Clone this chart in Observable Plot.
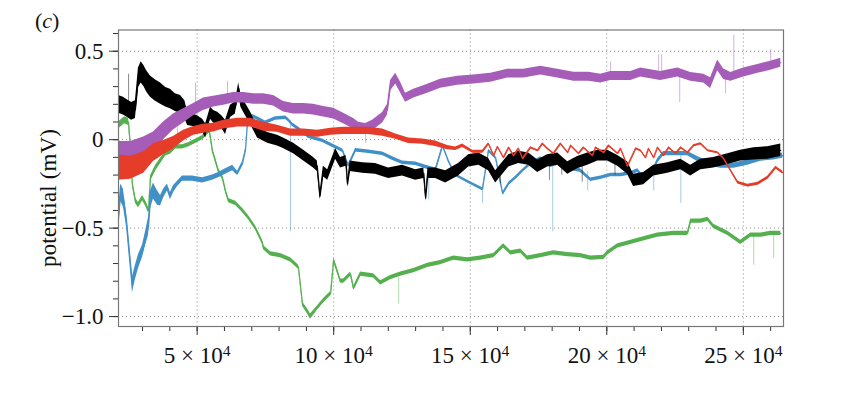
<!DOCTYPE html>
<html><head><meta charset="utf-8">
<script src="https://cdn.jsdelivr.net/npm/d3@7"></script>
<script src="https://cdn.jsdelivr.net/npm/@observablehq/plot@0.6"></script>
<style>
body{margin:0;background:#fff;}
#chart{position:relative;width:850px;height:394px;}
</style></head><body><div id="chart"></div>
<script>
// x in units of 10^4, y = potential (mV), w = half-width of the noise band (mV)
const black = [[2.12,0.20,.05],[2.30,0.19,.05],[2.45,0.175,.05],[2.60,0.16,.05],[2.74,0.17,.05],[2.85,0.35,.055],[2.95,0.38,.06],[3.05,0.36,.06],[3.15,0.33,.06],[3.29,0.30,.06],[3.45,0.28,.06],[3.66,0.26,.06],[3.85,0.24,.055],[4.02,0.23,.055],[4.20,0.21,.05],[4.39,0.20,.05],[4.55,0.17,.05],[4.65,0.12,.04],[4.85,0.11,.035],[5.01,0.10,.035],[5.20,0.08,.035],[5.31,0.05,.04],[5.40,0.10,.035],[5.49,0.15,.035],[5.60,0.13,.035],[5.75,0.12,.035],[5.90,0.10,.035],[6.04,0.07,.04],[6.22,0.16,.035],[6.40,0.18,.035],[6.52,0.29,.03],[6.60,0.22,.035],[6.70,0.19,.035],[6.96,0.12,.035],[7.21,0.04,.03],[7.58,0.01,.03],[7.94,-0.005,.03],[8.16,-0.02,.03],[8.53,-0.05,.03],[8.90,-0.09,.03],[9.26,-0.13,.03],[9.40,-0.15,.03],[9.50,-0.32,.02],[9.62,-0.18,.03],[9.78,-0.20,.03],[10.07,-0.08,.03],[10.25,-0.13,.03],[10.45,-0.12,.03],[10.51,-0.25,.02],[10.60,-0.15,.03],[11.06,-0.16,.03],[11.53,-0.165,.03],[12.01,-0.19,.03],[12.52,-0.175,.03],[13.00,-0.20,.03],[13.30,-0.19,.03],[13.37,-0.33,.02],[13.45,-0.19,.03],[13.73,-0.19,.03],[14.10,-0.21,.035],[14.57,-0.17,.035],[14.94,-0.12,.035],[15.31,-0.11,.035],[15.67,-0.14,.035],[15.93,-0.21,.035],[16.41,-0.12,.035],[16.77,-0.10,.035],[17.14,-0.11,.035],[17.47,-0.15,.035],[17.83,-0.12,.035],[18.20,-0.11,.035],[18.57,-0.16,.035],[18.93,-0.13,.035],[19.30,-0.11,.035],[19.67,-0.09,.03],[20.03,-0.09,.03],[20.40,-0.12,.03],[20.76,-0.16,.035],[20.98,-0.23,.035],[21.35,-0.22,.035],[21.72,-0.175,.03],[22.23,-0.16,.03],[22.71,-0.14,.03],[23.07,-0.175,.03],[23.44,-0.14,.03],[23.91,-0.13,.03],[24.43,-0.11,.03],[24.90,-0.09,.03],[25.38,-0.08,.035],[25.89,-0.075,.035],[26.37,-0.06,.035]];

const purple = [[2.12,-0.07,.07],[2.19,-0.08,.07],[2.56,-0.08,.07],[3.04,-0.05,.065],[3.40,-0.017,.06],[3.77,0.05,.05],[4.13,0.10,.045],[4.50,0.135,.04],[4.87,0.17,.035],[5.23,0.20,.035],[5.60,0.215,.03],[5.97,0.225,.03],[6.33,0.237,.03],[6.70,0.237,.03],[7.07,0.23,.03],[7.43,0.23,.03],[7.80,0.22,.03],[8.16,0.186,.03],[8.53,0.175,.03],[8.90,0.175,.03],[9.26,0.17,.03],[9.63,0.158,.03],[10.00,0.147,.03],[10.36,0.12,.03],[10.73,0.09,.03],[10.91,0.068,.03],[11.17,0.062,.03],[11.42,0.08,.03],[11.79,0.124,.03],[11.97,0.17,.03],[12.08,0.305,.03],[12.27,0.345,.03],[12.45,0.294,.03],[12.63,0.237,.025],[12.93,0.26,.025],[13.44,0.288,.025],[13.91,0.316,.025],[14.54,0.333,.025],[15.12,0.34,.025],[15.75,0.35,.025],[16.37,0.373,.025],[16.96,0.373,.025],[17.58,0.39,.025],[18.20,0.373,.025],[18.79,0.356,.025],[19.34,0.356,.025],[19.78,0.345,.025],[20.14,0.36,.025],[20.88,0.36,.025],[21.24,0.38,.025],[21.97,0.36,.025],[22.60,0.38,.025],[23.07,0.355,.025],[23.55,0.345,.025],[23.80,0.32,.03],[24.06,0.42,.03],[24.28,0.37,.03],[24.54,0.355,.025],[25.01,0.38,.025],[25.53,0.40,.025],[26.00,0.418,.025],[26.37,0.435,.025]];

const red = [[2.12,-0.16,.07],[2.19,-0.158,.07],[2.56,-0.158,.065],[3.04,-0.13,.06],[3.40,-0.073,.05],[3.77,-0.045,.04],[4.13,-0.017,.035],[4.50,0.023,.03],[4.87,0.05,.025],[5.23,0.062,.025],[5.60,0.068,.025],[5.97,0.085,.025],[6.48,0.096,.025],[6.96,0.096,.025],[7.43,0.073,.025],[7.94,0.062,.02],[8.42,0.04,.02],[8.90,0.04,.02],[9.41,0.034,.02],[9.89,0.045,.02],[10.36,0.05,.02],[10.87,0.05,.02],[11.28,0.05,.02],[11.79,0.04,.02],[12.27,0.017,.015],[12.74,-0.006,.015],[13.26,-0.011,.015],[13.73,-0.023,.015],[14.17,-0.045,.012],[14.46,-0.051,.01],[14.72,-0.034,.01],[15.09,-0.068,.008],[15.45,-0.068,.008],[15.67,-0.023,.006],[15.86,-0.09,.005],[16.00,-0.04,.005],[16.22,-0.102,.005],[16.41,-0.045,.005],[16.59,-0.09,.005],[16.77,-0.051,.005],[16.92,-0.107,.005],[17.21,-0.045,.005],[17.47,-0.062,.005],[17.65,-0.023,.005],[17.83,-0.051,.005],[18.05,-0.079,.005],[18.31,-0.023,.005],[18.57,-0.073,.005],[18.68,-0.034,.005],[18.97,-0.079,.005],[19.15,-0.045,.005],[19.48,-0.09,.005],[19.59,-0.045,.005],[19.89,-0.073,.005],[20.07,-0.034,.005],[20.40,-0.079,.005],[20.51,-0.051,.005],[20.76,-0.15,.005],[21.06,-0.051,.005],[21.24,-0.062,.005],[21.42,-0.102,.005],[21.53,-0.051,.005],[21.72,-0.102,.005],[21.86,-0.045,.005],[22.08,-0.09,.005],[22.27,-0.045,.005],[22.52,-0.079,.005],[22.71,-0.045,.005],[22.96,-0.073,.005],[23.18,-0.034,.005],[23.44,-0.023,.005],[23.70,-0.062,.005],[24.06,-0.073,.005],[24.28,-0.107,.005],[24.54,-0.175,.006],[24.80,-0.243,.008],[25.16,-0.26,.008],[25.53,-0.249,.008],[25.89,-0.215,.008],[26.19,-0.158,.008],[26.44,-0.186,.008]];

const blue = [[2.12,-0.45,.06],[2.20,-0.30,.05],[2.30,-0.33,.05],[2.41,-0.45,.04],[2.56,-0.70,.04],[2.63,-0.82,.045],[2.74,-0.75,.04],[2.85,-0.69,.04],[3.00,-0.63,.035],[3.11,-0.56,.04],[3.22,-0.49,.05],[3.29,-0.34,.05],[3.40,-0.29,.045],[3.55,-0.33,.04],[3.66,-0.345,.03],[3.77,-0.305,.025],[3.91,-0.27,.02],[4.02,-0.32,.02],[4.13,-0.28,.02],[4.28,-0.25,.015],[4.46,-0.22,.015],[4.83,-0.22,.015],[5.20,-0.23,.015],[5.56,-0.215,.015],[5.78,-0.20,.015],[6.04,-0.18,.015],[6.30,-0.16,.015],[6.48,-0.19,.012],[6.66,-0.136,.012],[6.77,-0.06,.01],[6.85,0.107,.01],[6.96,0.136,.01],[7.21,0.12,.01],[7.50,0.096,.01],[7.87,0.12,.01],[8.24,0.124,.01],[8.35,0.11,.01],[8.49,0.085,.01],[8.71,0.062,.01],[9.08,0.017,.01],[9.59,-0.006,.01],[9.96,-0.034,.01],[10.33,-0.062,.01],[10.54,-0.147,.01],[10.80,-0.06,.01],[11.28,-0.068,.01],[11.79,-0.08,.01],[12.16,-0.107,.01],[12.52,-0.13,.01],[13.00,-0.136,.01],[13.44,-0.158,.01],[13.73,-0.17,.01],[13.99,-0.034,.008],[14.20,-0.12,.008],[14.46,-0.20,.008],[14.94,-0.24,.008],[15.45,-0.28,.008],[15.67,-0.062,.008],[15.93,-0.102,.008],[16.19,-0.305,.008],[16.41,-0.249,.008],[16.66,-0.215,.008],[16.92,-0.175,.008],[17.21,-0.136,.01],[17.58,-0.107,.01],[17.94,-0.147,.01],[18.31,-0.13,.01],[18.68,-0.164,.01],[19.04,-0.175,.01],[19.41,-0.226,.01],[19.78,-0.215,.01],[20.14,-0.20,.01],[20.51,-0.20,.01],[20.88,-0.19,.01],[21.13,-0.175,.01],[21.35,-0.215,.01],[21.61,-0.203,.01],[21.86,-0.119,.012],[22.08,-0.079,.012],[22.45,-0.079,.012],[22.96,-0.079,.012],[23.44,-0.119,.015],[23.80,-0.136,.015],[24.17,-0.147,.015],[24.65,-0.147,.015],[25.16,-0.13,.015],[25.64,-0.107,.015],[26.11,-0.10,.015],[26.44,-0.09,.015]];

const green = [[2.12,0.08,.02],[2.34,0.11,.02],[2.49,0.10,.02],[2.56,-0.05,.015],[2.63,-0.25,.015],[2.74,-0.345,.015],[2.85,-0.37,.015],[3.00,-0.33,.015],[3.11,-0.36,.015],[3.22,-0.40,.015],[3.29,-0.22,.015],[3.48,-0.16,.015],[3.66,-0.12,.015],[3.84,-0.08,.012],[4.02,-0.07,.012],[4.21,-0.04,.012],[4.46,-0.04,.012],[4.68,-0.03,.012],[4.94,-0.01,.012],[5.20,0.011,.012],[5.31,0.03,.012],[5.45,0.05,.012],[5.56,-0.06,.012],[5.78,-0.175,.012],[5.93,-0.215,.012],[6.04,-0.29,.012],[6.15,-0.345,.012],[6.41,-0.36,.012],[6.66,-0.40,.012],[6.88,-0.44,.012],[7.14,-0.50,.012],[7.39,-0.58,.012],[7.43,-0.61,.012],[7.69,-0.645,.012],[8.05,-0.655,.012],[8.42,-0.68,.012],[8.71,-0.72,.012],[8.86,-0.93,.012],[9.04,-0.97,.015],[9.15,-1.0,.015],[9.41,-0.95,.012],[9.63,-0.91,.012],[9.89,-0.87,.012],[10.00,-0.68,.012],[10.25,-0.80,.012],[10.36,-0.80,.012],[10.62,-0.76,.012],[10.73,-0.84,.012],[10.98,-0.76,.012],[11.46,-0.77,.012],[11.72,-0.81,.012],[12.08,-0.78,.012],[12.45,-0.76,.012],[12.93,-0.74,.012],[13.44,-0.71,.012],[13.91,-0.695,.012],[14.39,-0.67,.012],[14.90,-0.68,.012],[15.38,-0.67,.012],[15.86,-0.655,.012],[16.22,-0.60,.012],[16.48,-0.64,.012],[16.85,-0.63,.012],[17.10,-0.67,.012],[17.58,-0.655,.012],[18.05,-0.64,.012],[18.57,-0.65,.012],[19.04,-0.655,.012],[19.41,-0.67,.012],[19.89,-0.665,.012],[20.03,-0.64,.012],[20.40,-0.60,.012],[20.88,-0.58,.012],[21.35,-0.56,.012],[21.86,-0.54,.012],[22.45,-0.53,.012],[22.96,-0.53,.012],[23.07,-0.46,.012],[23.44,-0.46,.012],[23.70,-0.45,.012],[23.91,-0.49,.012],[24.43,-0.53,.012],[24.90,-0.58,.012],[25.27,-0.54,.012],[25.64,-0.54,.012],[26.00,-0.53,.012],[26.37,-0.53,.012]];

// isolated spikes: [x, base, tip]
const blackSpikes = [[2.49,0.18,0.37],[17.90,-0.12,-0.23],[18.35,-0.11,-0.20],[19.10,-0.12,-0.24],[20.30,-0.11,-0.20],[16.10,-0.15,-0.25]];
const purpleSpikes = [[4.94,0.17,0.32],[6.11,0.23,0.33],[11.17,0.06,-0.02],[20.14,0.35,0.44],[21.90,0.36,0.48],[22.01,0.36,0.48],[22.67,0.38,0.21],[24.35,0.37,0.26],[24.65,0.36,0.59],[26.00,0.42,0.51]];
const blueSpikes = [[8.42,0.11,-0.52],[13.48,-0.16,-0.34],[15.45,-0.26,-0.36],[18.02,-0.13,-0.52],[19.30,-0.18,-0.29],[21.72,-0.2,-0.29],[22.71,-0.08,-0.36]];
const greenSpikes = [[4.28,-0.04,0.07],[12.38,-0.78,-0.93],[25.38,-0.54,-0.71],[26.11,-0.53,-0.67]];

const xMajor = [5, 10, 15, 20, 25];
const xMinor = d3.range(3, 27, 1);
const yMajor = [-1.0, -0.5, 0, 0.5];
const yMinor = d3.range(-10, 7, 1).map(v => v / 10);
const xDomain = [2.12, 26.47];
const yDomain = [-1.056, 0.62];

const seriesList = [
  {data: green, spikes: greenSpikes, color: "#55b04f"},
  {data: blue, spikes: blueSpikes, color: "#4190c8"},
  {data: black, spikes: blackSpikes, color: "#000000"},
  {data: purple, spikes: purpleSpikes, color: "#a55db8"},
  {data: red, spikes: [], color: "#e63c2a"}
];

const font = '"Liberation Serif","Times New Roman",serif';
const grid = {stroke: "#8a8a8a", strokeOpacity: 1, strokeWidth: 1, strokeDasharray: "1,3"};
const marks = [
  Plot.gridX(xMajor, grid),
  Plot.gridY(yMajor, grid)
];
for (const s of seriesList) {
  const rows = s.data.map(([x, y, w]) => ({x, y, w}));
  marks.push(Plot.areaY(rows, {x: "x", y1: d => d.y - d.w, y2: d => d.y + d.w, fill: s.color, curve: "linear"}));
  marks.push(Plot.line(rows, {x: "x", y: "y", stroke: s.color, strokeWidth: 1.2}));
  if (s.spikes.length) marks.push(Plot.ruleX(s.spikes, {x: d => d[0], y1: d => d[1], y2: d => d[2], stroke: s.color, strokeWidth: 0.8, strokeOpacity: 0.6}));
}
const fmtY = d => d === 0 ? "0" : d3.format(".1f")(d);
marks.push(
  Plot.axisX(xMinor, {tickSize: 5, tickFormat: () => "", stroke: "#333"}),
  Plot.axisX(xMajor, {tickSize: 9, tickPadding: 11, tickFormat: d => String(d), stroke: "#333", fill: "#111"}),
  Plot.axisY(yMinor, {tickSize: 5, tickFormat: () => "", stroke: "#333"}),
  Plot.axisY(yMajor, {tickSize: 9, tickPadding: 6, tickFormat: fmtY, stroke: "#333", fill: "#111"}),
  Plot.frame({stroke: "#777", strokeWidth: 1.2})
);

const svg = Plot.plot({
  width: 850, height: 394,
  marginLeft: 118, marginRight: 67, marginTop: 29.5, marginBottom: 68,
  style: {fontFamily: font, fontSize: "23px", background: "#fff", color: "#111"},
  x: {domain: xDomain, label: null},
  y: {domain: yDomain, label: null},
  marks
});
document.getElementById("chart").appendChild(svg);

// x tick labels as "n × 10^4"
const NS = "http://www.w3.org/2000/svg";
d3.select(svg).selectAll('g[aria-label="x-axis tick label"] text').each(function() {
  const t = this.textContent;
  if (!t) return;
  this.textContent = t + " × 10";
  const sup = document.createElementNS(NS, "tspan");
  sup.setAttribute("dy", "-0.45em");
  sup.setAttribute("font-size", "0.68em");
  sup.textContent = "4";
  this.appendChild(sup);
});

const s = d3.select(svg);
const c = s.append("text").attr("x", 35).attr("y", 28).attr("text-anchor", "start")
  .attr("font-size", 22).attr("font-family", font).attr("fill", "#111");
c.append("tspan").text("(");
c.append("tspan").attr("font-style", "italic").text("c");
c.append("tspan").text(")");
s.append("text").attr("transform", "translate(56,198) rotate(-90)").attr("text-anchor", "middle")
  .attr("font-size", 23).attr("font-family", font).attr("fill", "#111")
  .attr("textLength", 138).attr("lengthAdjust", "spacing").text("potential (mV)");
</script></body></html>
